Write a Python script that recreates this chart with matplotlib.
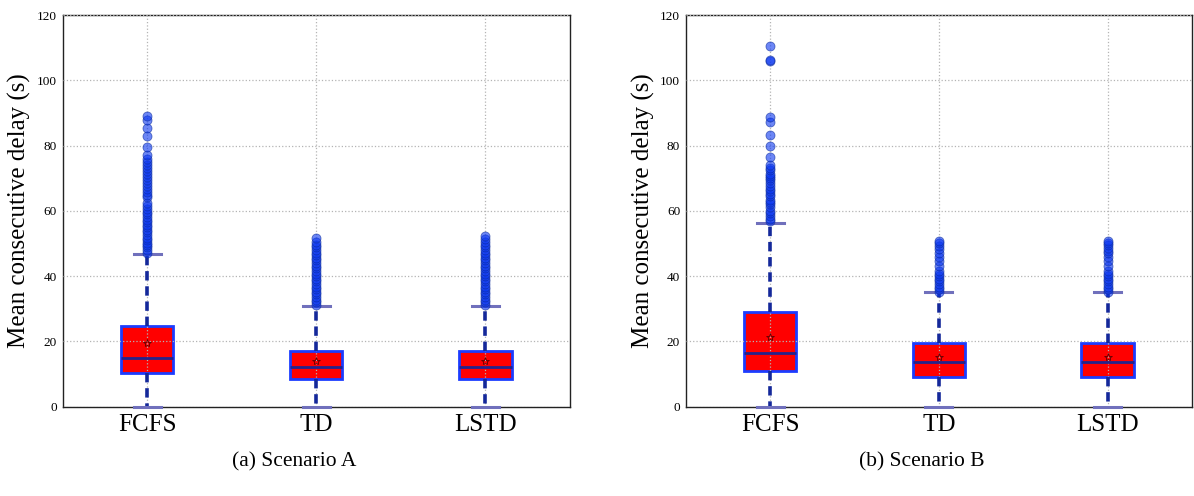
import matplotlib
matplotlib.use('Agg')
import matplotlib.pyplot as plt

plt.rcParams['font.family'] = ['Liberation Serif', 'DejaVu Serif']

# ---------------------------------------------------------------------------
# data
# ---------------------------------------------------------------------------
methods = ['FCFS', 'TD', 'LSTD']
captions = ['(a) Scenario A', '(b) Scenario B']

# scenario A: whislo, q1, median, q3, whishi, mean
a_whislo = [0.0, 0.0, 0.0]
a_q1 = [10.4, 8.5, 8.5]
a_med = [14.9, 12.3, 12.3]
a_q3 = [24.8, 17.2, 17.2]
a_whishi = [46.8, 30.9, 30.9]
a_mean = [19.5, 14.1, 14.1]
a_fliers = [
    [47.2, 48.0, 48.8, 49.5, 50.3, 51.0, 51.8, 52.6, 53.4, 54.1, 55.0, 55.8,
     56.6, 57.3, 58.1, 59.0, 59.8, 60.6, 61.4, 62.3, 64.2, 65.0, 65.9, 66.8,
     67.7, 68.6, 69.4, 70.3, 71.2, 72.1, 73.0, 74.0, 75.1, 76.0, 77.0, 79.7,
     82.8, 85.4, 87.7, 89.2],
    [31.2, 32.0, 32.8, 33.6, 34.4, 35.2, 36.0, 36.8, 37.6, 38.4, 39.2, 40.0,
     40.8, 41.6, 42.4, 43.2, 44.0, 44.8, 45.6, 46.4, 47.2, 48.0, 48.8, 49.6,
     50.5, 51.6],
    [31.2, 32.0, 32.8, 33.6, 34.4, 35.2, 36.0, 36.8, 37.6, 38.4, 39.2, 40.0,
     40.8, 41.6, 42.4, 43.2, 44.0, 44.8, 45.6, 46.4, 47.2, 48.0, 48.8, 49.6,
     50.5, 51.3, 52.2],
]

# scenario B
b_whislo = [0.0, 0.0, 0.0]
b_q1 = [10.8, 9.1, 9.1]
b_med = [16.6, 13.7, 13.7]
b_q3 = [29.1, 19.5, 19.5]
b_whishi = [56.4, 35.0, 35.0]
b_mean = [21.4, 15.2, 15.2]
b_fliers = [
    [57.0, 57.6, 58.4, 59.2, 60.0, 61.2, 62.0, 62.6, 63.2, 64.4, 65.2, 66.1,
     66.8, 67.6, 68.4, 69.3, 70.0, 70.8, 71.4, 72.5, 73.2, 74.0, 76.5, 80.0,
     83.1, 87.2, 88.7, 105.8, 106.3, 110.5],
    [35.2, 36.0, 36.8, 37.6, 38.4, 39.2, 40.0, 40.8, 41.6, 43.0, 44.5, 45.8,
     47.0, 48.2, 49.2, 50.0, 50.8],
    [35.2, 36.0, 36.8, 37.6, 38.4, 39.2, 40.0, 40.8, 41.6, 43.0, 44.5, 45.8,
     47.0, 47.8, 48.6, 49.4, 50.0, 50.8],
]

yticks = [0, 20, 40, 60, 80, 100, 120]


def make_stats(whislo, q1, med, q3, whishi, mean, fliers):
    stats = []
    for i, name in enumerate(methods):
        stats.append({'label': name, 'whislo': whislo[i], 'q1': q1[i],
                      'med': med[i], 'q3': q3[i], 'whishi': whishi[i],
                      'mean': mean[i], 'fliers': fliers[i]})
    return stats


def draw_panel(ax, stats, caption_x, caption):
    bp = ax.bxp(stats, positions=[1, 2, 3], widths=0.31, patch_artist=True,
                showmeans=True, capwidths=0.16,
                boxprops=dict(facecolor='#ff0000', edgecolor='#1c3cff',
                              linewidth=2.0),
                medianprops=dict(color='#23238c', linewidth=2.0, zorder=3),
                whiskerprops=dict(color='#14289a', linewidth=2.6, zorder=3,
                                  linestyle=(0, (2.6, 1.6))),
                capprops=dict(color='#7070bc', linewidth=2.2, zorder=3),
                flierprops=dict(marker='o', markerfacecolor='#0a36f0',
                                markeredgecolor='#0a2a9a', markersize=6.5,
                                markeredgewidth=0.6, alpha=0.6, zorder=3),
                meanprops=dict(marker='*', markerfacecolor='none',
                               markeredgecolor='#600000', markersize=6,
                               markeredgewidth=0.6, zorder=3))
    for cap in bp['caps']:
        cap.set_clip_on(False)
    ax.set_xlim(0.5, 3.5)
    ax.set_ylim(0, 120)
    ax.set_yticks(yticks)
    ax.set_xticks([1, 2, 3])
    ax.set_xticklabels(methods, fontsize=18)
    ax.tick_params(axis='y', length=0, pad=4, labelsize=9.5)
    ax.tick_params(axis='x', length=0, pad=5)
    ax.set_axisbelow(False)
    ax.grid(True, color='#b4b4b4', linestyle=':', linewidth=0.9)
    ax.set_ylabel('Mean consecutive delay (s)', fontsize=18, labelpad=4)
    for sp in ax.spines.values():
        sp.set_linewidth(1.0)
        sp.set_color('#222222')
    ax.figure.text(caption_x, 0.068, caption, ha='center', va='center',
                   fontsize=15.5)


fig = plt.figure(figsize=(11.94, 4.96), dpi=100)
W, H = 1194.0, 496.0
ax_a = fig.add_axes([62.5 / W, 1 - 406.7 / H, (570 - 62.5) / W, (406.7 - 15) / H])
ax_b = fig.add_axes([685.7 / W, 1 - 406.7 / H, (1192 - 685.7) / W, (406.7 - 15) / H])

draw_panel(ax_a, make_stats(a_whislo, a_q1, a_med, a_q3, a_whishi, a_mean, a_fliers),
           294.5 / W, captions[0])
draw_panel(ax_b, make_stats(b_whislo, b_q1, b_med, b_q3, b_whishi, b_mean, b_fliers),
           922 / W, captions[1])

fig.savefig('out.png', dpi=100)
